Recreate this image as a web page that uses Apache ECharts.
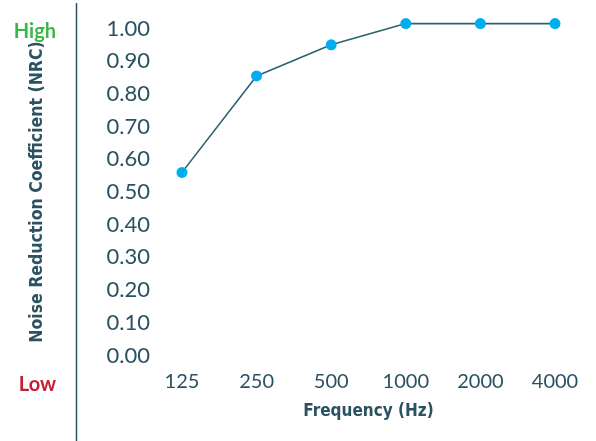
<!DOCTYPE html>
<html>
<head>
<meta charset="utf-8">
<script src="https://cdn.jsdelivr.net/npm/echarts@6/dist/echarts.min.js"></script>
<style>
html,body{margin:0;padding:0;background:#fff;}
#chart{width:596px;height:441px;}
</style>
</head>
<body>
<div id="chart"></div>
<script>
var categories = ['125', '250', '500', '1000', '2000', '4000'];
var nrcValues = [0.56, 0.855, 0.95, 1.015, 1.015, 1.015];
var yTicks = {min: 0, max: 1, interval: 0.1};

var chart = echarts.init(document.getElementById('chart'));
var textColor = '#2b5262';
chart.setOption({
  animation: false,
  grid: {left: 182, right: 41, top: 28.5, bottom: 85.5},
  xAxis: {
    type: 'category',
    data: categories,
    boundaryGap: false,
    axisLine: {show: false},
    axisTick: {show: false},
    splitLine: {show: false},
    axisLabel: {color: textColor, fontFamily: 'Lato', fontSize: 20, margin: 16},
    name: 'Frequency (Hz)',
    nameLocation: 'middle',
    nameGap: 48,
    nameTextStyle: {color: textColor, fontFamily: 'DejaVu Sans Condensed', fontWeight: 'bold', fontSize: 17}
  },
  yAxis: {
    type: 'value',
    min: yTicks.min,
    max: yTicks.max,
    interval: yTicks.interval,
    axisLine: {show: false},
    axisTick: {show: false},
    splitLine: {show: false},
    axisLabel: {color: textColor, fontFamily: 'Lato', fontSize: 22, margin: 32,
      formatter: function (v) { return v.toFixed(2); }},
    name: 'Noise Reduction Coefficient (NRC)',
    nameLocation: 'middle',
    nameGap: 136,
    nameTextStyle: {color: textColor, fontFamily: 'DejaVu Sans Condensed', fontWeight: 'bold', fontSize: 17.5}
  },
  graphic: [
    {type: 'line', shape: {x1: 76.5, y1: 3, x2: 76.5, y2: 441}, style: {stroke: '#2b5262', lineWidth: 1.5}},
    {type: 'text', style: {text: 'High', x: 56, y: 32, align: 'right', verticalAlign: 'middle', fill: '#3cb54a', font: 'bold 20px Lato'}},
    {type: 'text', style: {text: 'Low', x: 56, y: 385, align: 'right', verticalAlign: 'middle', fill: '#c41f33', font: 'bold 20px Lato'}}
  ],
  series: [{
    type: 'line',
    data: nrcValues,
    clip: false,
    symbol: 'circle',
    symbolSize: 11,
    lineStyle: {color: '#2d6070', width: 1.6},
    itemStyle: {color: '#00aeef'}
  }]
});
</script>
</body>
</html>
